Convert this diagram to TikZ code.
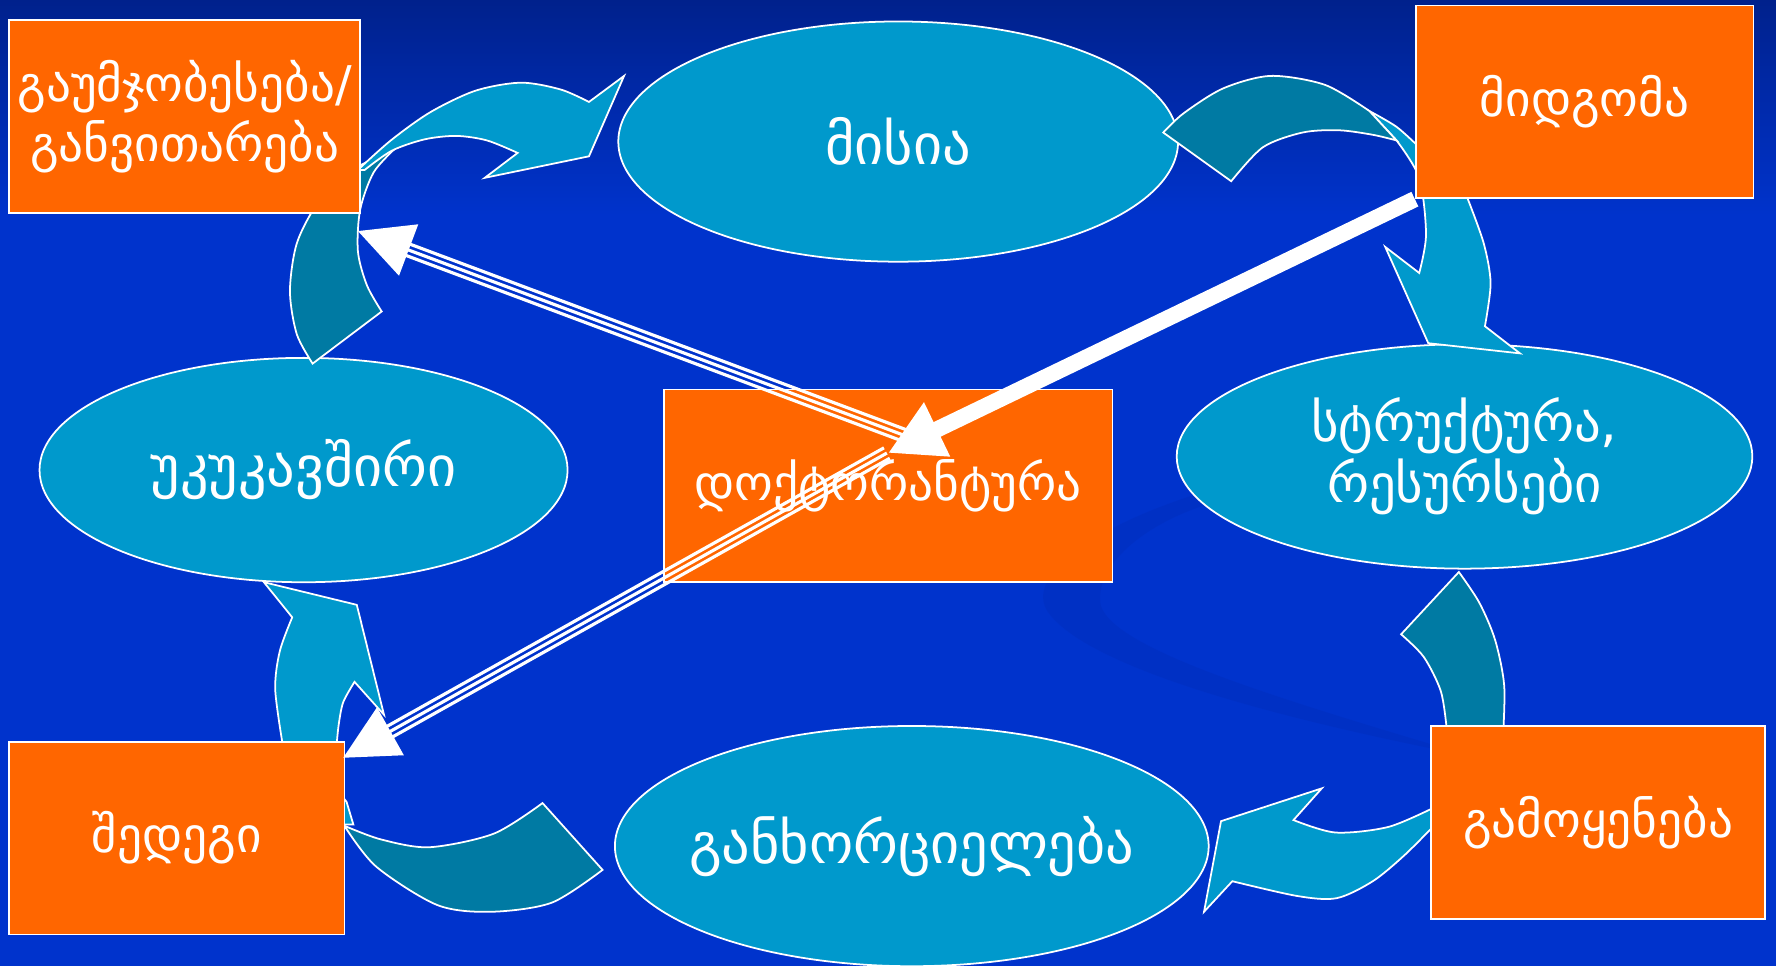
\documentclass[tikz,border=0pt]{standalone}
\usepackage{fontspec}
\newfontfamily\geo{DejaVu Sans}
\usetikzlibrary{arrows.meta,calc,shapes.geometric}
\definecolor{bgblue}{HTML}{0033CC}
\definecolor{bgtop}{HTML}{00218C}
\definecolor{orng}{HTML}{FF6600}
\definecolor{lblue}{HTML}{0099CC}
\definecolor{tealdk}{HTML}{007AA3}
\definecolor{swoosh}{HTML}{002BB4}
\begin{document}
\begin{tikzpicture}[x=0.0113265cm,y=-0.0113265cm,
  lbl/.style={text=white,font=\geo\fontsize{14}{17}\selectfont,align=center},
  big/.style={font=\geo\fontsize{16}{19}\selectfont},
  box/.style={lbl,draw=white,line width=0.5pt,fill=orng,rectangle,minimum height=54.79pt,inner sep=0pt},
  oval/.style={lbl,draw=white,line width=0.5pt,fill=lblue,ellipse,inner sep=0pt},
  darkband/.style={fill=tealdk,draw=white,line width=0.5pt,line join=miter},
  lightband/.style={fill=lblue,draw=white,line width=0.5pt,line join=miter},
  thickarrow/.style={white,line width=4.6pt,-{Triangle[length=15.5pt,width=16pt]}},
  tripcenter/.style={white,line width=0.9pt,-{Triangle[length=15.4pt,width=15.4pt]}},
  tripside/.style={white,line width=0.9pt,shorten >=12pt},
]
\useasboundingbox (0,0) rectangle (1568,853);
% background
\fill[bgblue] (0,0) rectangle (1568,853);
\shade[top color=bgtop,bottom color=bgblue] (0,0) rectangle (1568,190);
\fill[swoosh,opacity=0.3] (1070,432) .. controls (960,465) and (905,510) .. (925,540)
  .. controls (960,590) and (1130,635) .. (1300,668)
  .. controls (1140,620) and (985,575) .. (972,535)
  .. controls (965,500) and (1010,462) .. (1070,444) -- cycle;

% ellipses
\node[oval,big,minimum width=159.2pt,minimum height=68.32pt] (mis) at (793,125) {\makebox[0pt]{მისია}};
\node[oval,font=\geo\fontsize{15}{17.5}\selectfont,minimum width=163.71pt,minimum height=63.81pt] (str) at (1293,403) {სტრუქტურა,\\რესურსები};
\node[oval,big,minimum width=150.18pt,minimum height=63.81pt] (uku) at (268,415) {\makebox[0pt]{უკუკავშირი}};
\node[oval,big,minimum width=168.87pt,minimum height=68.32pt] (gan) at (805,747) {\makebox[0pt]{განხორციელება}};

% curved arrow: uku -> mis (dark part then light part)
\path[darkband] (350,130) plot[smooth] coordinates {(350,130) (330,152) (318,185) (316,222) (324,252) (337,275)}
  -- (276,321) -- plot[smooth] coordinates {(276,321) (262,295) (256,257) (262,215) (280,180) (305,155) (318,146)} -- cycle;
\path[lightband] (316,150) plot[smooth] coordinates {(316,150) (345,124) (380,99) (420,80) (460,73) (495,79) (520,90)}
  -- (551,67) -- (520,138) -- (428,157) -- plot[smooth] coordinates {(457,135) (430,124) (403,120) (375,123) (346,133) (322,150)} -- cycle;

% curved arrow: mis -> str (behind midgoma)
\path[lightband] (1209,98) plot[smooth] coordinates {(1209,98) (1233,112) (1253,130)} -- (1290,140)
  -- plot[smooth] coordinates {(1296,176) (1310,215) (1316,250) (1311,288)}
  -- (1342,312) -- (1261,303) -- (1223,218)
  -- plot[smooth] coordinates {(1253,241) (1259,207) (1253,157) (1233,124)} -- cycle;
\path[darkband] (1027,117) -- (1087,160) -- plot[smooth] coordinates {(1087,160) (1115,130) (1150,117) (1182,115) (1212,119) (1233,124)}
  -- (1209,98) -- plot[smooth] coordinates {(1209,98) (1170,75) (1122,67) (1080,78) (1045,100) (1027,117)} -- cycle;

% curved arrow: str -> gan (behind gamoyeneba)
\path[darkband] (1237,560) -- (1288,505) -- plot[smooth] coordinates {(1288,505) (1306,532) (1320,565) (1328,605) (1327,650)}
  -- (1280,655) -- plot[smooth] coordinates {(1277,641) (1272,610) (1257,580) (1237,560)} -- cycle;
\path[lightband] (1268,712) plot[smooth] coordinates {(1268,712) (1226,730) (1179,735) (1142,724)}
  -- (1167,696) -- (1078,725) -- (1063,805)
  -- plot[smooth] coordinates {(1088,778) (1145,791) (1180,793) (1212,778) (1240,755) (1268,727)} -- cycle;

% curved arrow: gan -> uku (behind shedegi)
\path[darkband] (304,729) plot[smooth] coordinates {(304,729) (336,741) (379,748) (436,736) (479,709)}
  -- (532,768) -- plot[smooth] coordinates {(532,768) (487,797) (433,805) (386,799) (332,765) (304,729)} -- cycle;
\path[lightband] (300,700) -- (306,708) -- (312,728) -- (300,728) -- cycle;
\path[lightband] (250,660) plot[smooth] coordinates {(250,660) (243,609) (247,575) (258,545)}
  -- (233,514) -- (315,534) -- (339,631)
  -- plot[smooth] coordinates {(313,602) (303,620) (299,640) (297,660)} -- cycle;

% boxes
\node[box,minimum width=99.9pt] (gau) at (163,103) {გაუმჯობესება/\\განვითარება};
\node[box,minimum width=96.04pt] (mid) at (1399,90) {მიდგომა};
\node[box,minimum width=127.62pt] (doq) at (784,429) {დოქტორანტურა};
\node[box,minimum width=95.39pt] (she) at (156,740) {შედეგი};
\node[box,minimum width=95.07pt] (gam) at (1411,726) {გამოყენება};

% straight arrows
\coordinate (thtip) at (784,400);
\draw[thickarrow] (mid.south west) -- (thtip);

\coordinate (tu) at (800,385);
\coordinate (hu) at (316,204);
\draw[tripside] ($(tu)!1.7pt!90:(hu)$) -- ($(hu)!1.7pt!-90:(tu)$);
\draw[tripside] ($(tu)!1.7pt!-90:(hu)$) -- ($(hu)!1.7pt!90:(tu)$);
\draw[tripcenter] (tu) -- (hu);

\coordinate (td) at (783,400);
\coordinate (hd) at (303,669);
\draw[tripside] ($(td)!1.7pt!90:(hd)$) -- ($(hd)!1.7pt!-90:(td)$);
\draw[tripside] ($(td)!1.7pt!-90:(hd)$) -- ($(hd)!1.7pt!90:(td)$);
\draw[tripcenter] (td) -- (hd);
\end{tikzpicture}
\end{document}
